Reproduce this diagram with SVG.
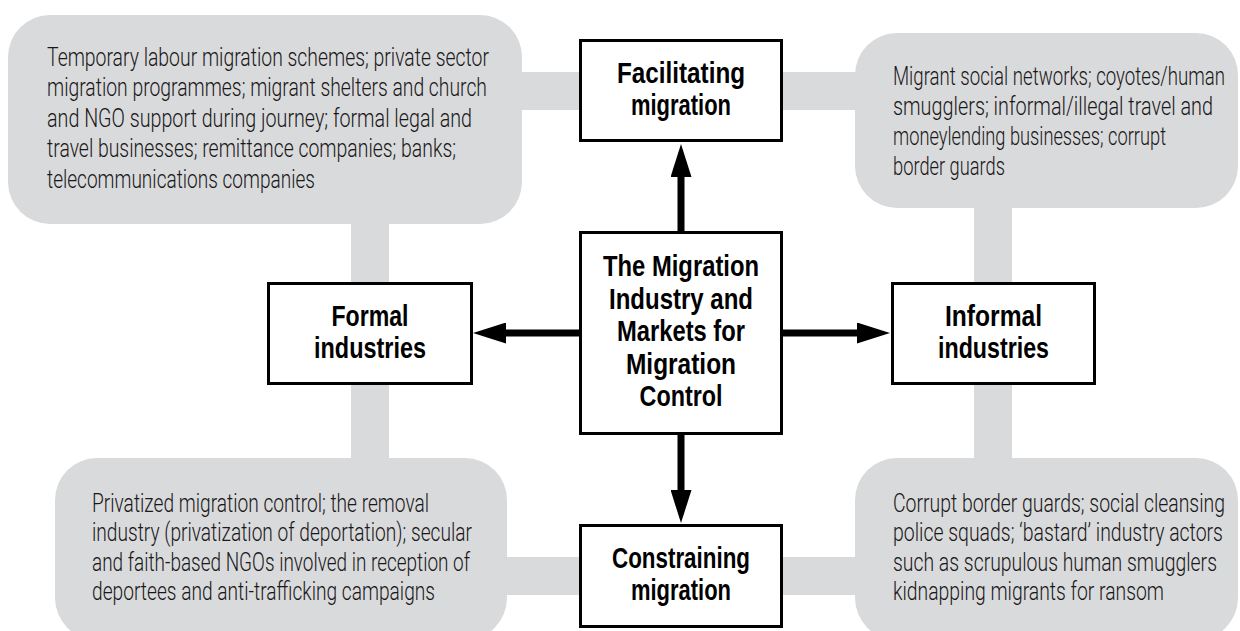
<svg xmlns="http://www.w3.org/2000/svg" width="1240" height="631" viewBox="0 0 1240 631">
<style>
.g{fill:#d9dadc}
.box{fill:#fff;stroke:#000;stroke-width:3}
.t{font-family:Roboto,"Liberation Sans",sans-serif;font-weight:300;font-size:26px;fill:#1a1718}
.b{font-family:"Liberation Sans",Arial,sans-serif;font-weight:700;font-size:29px;fill:#000}
.arr{stroke:#000;stroke-width:7;fill:none}
</style>
<defs>
<marker id="ah" viewBox="0 0 33 21" refX="0" refY="10.5" markerWidth="33" markerHeight="21" markerUnits="userSpaceOnUse" orient="auto">
<path d="M0,0 L33,10.5 L0,21 Z" fill="#000"/>
</marker>
</defs>
<rect width="1240" height="631" fill="#fff"/>
<g id="connectors">
<rect class="g" x="515" y="72" width="70" height="38"/>
<rect class="g" x="778" y="72" width="82" height="38"/>
<rect class="g" x="500" y="557" width="85" height="38"/>
<rect class="g" x="778" y="557" width="82" height="38"/>
<rect class="g" x="351" y="220" width="38" height="242"/>
<rect class="g" x="974" y="204" width="38" height="258"/>
<line class="arr" x1="580" y1="333" x2="506" y2="333" marker-end="url(#ah)"/>
<line class="arr" x1="782" y1="333" x2="857" y2="333" marker-end="url(#ah)"/>
<line class="arr" x1="681" y1="232" x2="681" y2="177" marker-end="url(#ah)"/>
<line class="arr" x1="681" y1="434" x2="681" y2="490" marker-end="url(#ah)"/>
</g>
<g id="formal-examples">
<rect class="g" x="8" y="15" width="514" height="209" rx="42"/>
<g transform="translate(47,0) scale(0.72,1)">
<text class="t" x="0" y="66" textLength="613.9" lengthAdjust="spacingAndGlyphs">Temporary labour migration schemes; private sector</text>
<text class="t" x="0" y="96.5" textLength="611.1" lengthAdjust="spacingAndGlyphs">migration programmes; migrant shelters and church</text>
<text class="t" x="0" y="127" textLength="590.3" lengthAdjust="spacingAndGlyphs">and NGO support during journey; formal legal and</text>
<text class="t" x="0" y="157.5" textLength="568.1" lengthAdjust="spacingAndGlyphs">travel businesses; remittance companies; banks;</text>
<text class="t" x="0" y="188" textLength="372.2" lengthAdjust="spacingAndGlyphs">telecommunications companies</text>
</g>
</g>
<g id="informal-examples">
<rect class="g" x="855" y="33" width="383" height="175" rx="42"/>
<g transform="translate(893,0) scale(0.72,1)">
<text class="t" x="0" y="85" textLength="461.1" lengthAdjust="spacingAndGlyphs">Migrant social networks; coyotes/human</text>
<text class="t" x="0" y="115" textLength="444.4" lengthAdjust="spacingAndGlyphs">smugglers; informal/illegal travel and</text>
<text class="t" x="0" y="145" textLength="379.2" lengthAdjust="spacingAndGlyphs">moneylending businesses; corrupt</text>
<text class="t" x="0" y="175" textLength="155.6" lengthAdjust="spacingAndGlyphs">border guards</text>
</g>
</g>
<g id="formal-constraining-examples">
<rect class="g" x="55" y="458" width="452" height="182" rx="42"/>
<g transform="translate(92,0) scale(0.72,1)">
<text class="t" x="0" y="512" textLength="468.1" lengthAdjust="spacingAndGlyphs">Privatized migration control; the removal</text>
<text class="t" x="0" y="541.5" textLength="527.8" lengthAdjust="spacingAndGlyphs">industry (privatization of deportation); secular</text>
<text class="t" x="0" y="571" textLength="525" lengthAdjust="spacingAndGlyphs">and faith-based NGOs involved in reception of</text>
<text class="t" x="0" y="600.5" textLength="476.4" lengthAdjust="spacingAndGlyphs">deportees and anti-trafficking campaigns</text>
</g>
</g>
<g id="informal-constraining-examples">
<rect class="g" x="855" y="458" width="383" height="182" rx="42"/>
<g transform="translate(893,0) scale(0.72,1)">
<text class="t" x="0" y="512" textLength="461.1" lengthAdjust="spacingAndGlyphs">Corrupt border guards; social cleansing</text>
<text class="t" x="0" y="541.5" textLength="458.3" lengthAdjust="spacingAndGlyphs">police squads; ‘bastard’ industry actors</text>
<text class="t" x="0" y="571" textLength="450" lengthAdjust="spacingAndGlyphs">such as scrupulous human smugglers</text>
<text class="t" x="0" y="600.5" textLength="376.4" lengthAdjust="spacingAndGlyphs">kidnapping migrants for ransom</text>
</g>
</g>
<g id="facilitating">
<rect class="box" x="580.5" y="40.5" width="201" height="100"/>
<g transform="translate(681,0) scale(0.75,1)">
<text class="b" x="-85.33" y="83.5" textLength="170.67" lengthAdjust="spacingAndGlyphs">Facilitating</text>
<text class="b" x="-66.67" y="115.5" textLength="133.33" lengthAdjust="spacingAndGlyphs">migration</text>
</g>
</g>
<g id="center">
<rect class="box" x="580.5" y="232.5" width="201" height="201"/>
<g transform="translate(681,0) scale(0.75,1)">
<text class="b" x="-104" y="276.5" textLength="208" lengthAdjust="spacingAndGlyphs">The Migration</text>
<text class="b" x="-96" y="309" textLength="192" lengthAdjust="spacingAndGlyphs">Industry and</text>
<text class="b" x="-85.33" y="341.5" textLength="170.67" lengthAdjust="spacingAndGlyphs">Markets for</text>
<text class="b" x="-73.33" y="374" textLength="146.67" lengthAdjust="spacingAndGlyphs">Migration</text>
<text class="b" x="-55.33" y="406.5" textLength="110.67" lengthAdjust="spacingAndGlyphs">Control</text>
</g>
</g>
<g id="constraining">
<rect class="box" x="580.5" y="525.5" width="201" height="101"/>
<g transform="translate(681,0) scale(0.75,1)">
<text class="b" x="-92" y="568.5" textLength="184" lengthAdjust="spacingAndGlyphs">Constraining</text>
<text class="b" x="-66.67" y="600.5" textLength="133.33" lengthAdjust="spacingAndGlyphs">migration</text>
</g>
</g>
<g id="formal">
<rect class="box" x="268.5" y="283.5" width="203" height="100"/>
<g transform="translate(370,0) scale(0.75,1)">
<text class="b" x="-51.33" y="326.5" textLength="102.67" lengthAdjust="spacingAndGlyphs">Formal</text>
<text class="b" x="-74.67" y="358.5" textLength="149.33" lengthAdjust="spacingAndGlyphs">industries</text>
</g>
</g>
<g id="informal">
<rect class="box" x="892.5" y="283.5" width="202" height="100"/>
<g transform="translate(993.5,0) scale(0.75,1)">
<text class="b" x="-64.67" y="326.5" textLength="129.33" lengthAdjust="spacingAndGlyphs">Informal</text>
<text class="b" x="-74" y="358.5" textLength="148" lengthAdjust="spacingAndGlyphs">industries</text>
</g>
</g>
</svg>
